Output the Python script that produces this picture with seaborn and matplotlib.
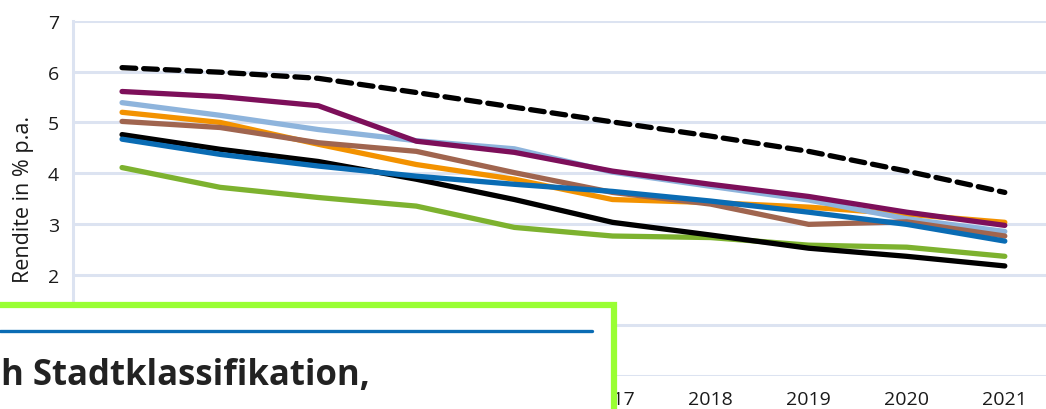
import pandas as pd
import seaborn as sns
import matplotlib.pyplot as plt
from matplotlib.patches import Rectangle
from matplotlib.lines import Line2D

# Rendite in % p.a., 2012-2021
years = [2012, 2013, 2014, 2015, 2016, 2017, 2018, 2019, 2020, 2021]
y_ticks = [0, 1, 2, 3, 4, 5, 6, 7]

orange = [5.20, 5.00, 4.57, 4.17, 3.88, 3.48, 3.42, 3.33, 3.19, 3.03]
light_blue = [5.39, 5.14, 4.86, 4.64, 4.48, 4.02, 3.74, 3.47, 3.10, 2.85]
brown = [5.02, 4.90, 4.60, 4.43, 4.01, 3.62, 3.39, 2.99, 3.04, 2.76]
green = [4.11, 3.72, 3.52, 3.35, 2.93, 2.76, 2.73, 2.58, 2.54, 2.36]
black = [4.76, 4.47, 4.23, 3.88, 3.48, 3.03, 2.78, 2.52, 2.36, 2.17]
blue = [4.67, 4.37, 4.14, 3.94, 3.78, 3.64, 3.45, 3.23, 2.99, 2.66]
purple = [5.61, 5.51, 5.33, 4.63, 4.41, 4.04, 3.78, 3.54, 3.23, 2.97]
dashed = [6.08, 5.99, 5.87, 5.59, 5.30, 5.01, 4.73, 4.43, 4.04, 3.62]

# drawing order: first one ends up at the bottom
series = [
    ("orange", orange, "#f39200", "-"),
    ("light blue", light_blue, "#8eb4dc", "-"),
    ("brown", brown, "#a0654f", "-"),
    ("green", green, "#7db22f", "-"),
    ("black", black, "#000000", "-"),
    ("blue", blue, "#0a6cb4", "-"),
    ("purple", purple, "#7d0f5a", "-"),
    ("dashed", dashed, "#000000", (0, (2.6, 1.5))),
]

sns.set_theme(style="white")
plt.rcParams['font.family'] = ['Open Sans', 'DejaVu Sans']

grid_col = "#dce3f1"
text_col = "#1a1a1a"

fig = plt.figure(figsize=(10.46, 4.1), dpi=100)
ax = fig.add_axes([73 / 1046, 33 / 410, 1 - 73 / 1046, 355 / 410])

for name, vals, col, ls in series:
    df = pd.DataFrame({"Jahr": years, "Rendite": vals})
    sns.lineplot(data=df, x="Jahr", y="Rendite", ax=ax, color=col,
                 linewidth=3.8, linestyle=ls, solid_capstyle="round",
                 dash_capstyle="round", solid_joinstyle="round")

ax.set_xlim(2011.5, 2021.42)
ax.set_ylim(0, 7)
ax.set_xticks(years)
# 2012-2016 and the y labels 0 and 1 sit under the overlaid box
ax.set_xticklabels(["" if y < 2017 else str(y) for y in years])
ax.set_yticks(y_ticks)
ax.set_yticklabels(["" if t < 2 else str(t) for t in y_ticks])
ax.set_xlabel("")
ax.set_ylabel("Rendite in % p.a.", fontsize=15.5, labelpad=10, color=text_col)
ax.tick_params(axis="both", length=0, labelsize=14, colors=text_col)
ax.tick_params(axis="x", pad=10)
ax.tick_params(axis="y", pad=10)

ax.grid(axis="y", color=grid_col, linewidth=2.2)
ax.set_axisbelow(True)
for s in ["top", "right", "bottom"]:
    ax.spines[s].set_visible(False)
ax.spines["left"].set_color(grid_col)
ax.spines["left"].set_linewidth(2.2)

# overlaid box (partly covering the chart)
box = Rectangle((-0.05, -0.2), 0.05 + 614 / 1046, 0.2 + 104 / 410,
                transform=fig.transFigure, facecolor="white",
                edgecolor="#99ff33", linewidth=4.5, zorder=10)
fig.add_artist(box)
fig.add_artist(Line2D([0, 592 / 1046], [78 / 410, 78 / 410],
                      transform=fig.transFigure, color="#0a6cb4",
                      linewidth=2.4, zorder=11))
fig.text(0.001, 25 / 410, "h Stadtklassifikation,", fontsize=25,
         fontweight="bold", color="#222222", zorder=12)

plt.savefig("out.png", dpi=100)
